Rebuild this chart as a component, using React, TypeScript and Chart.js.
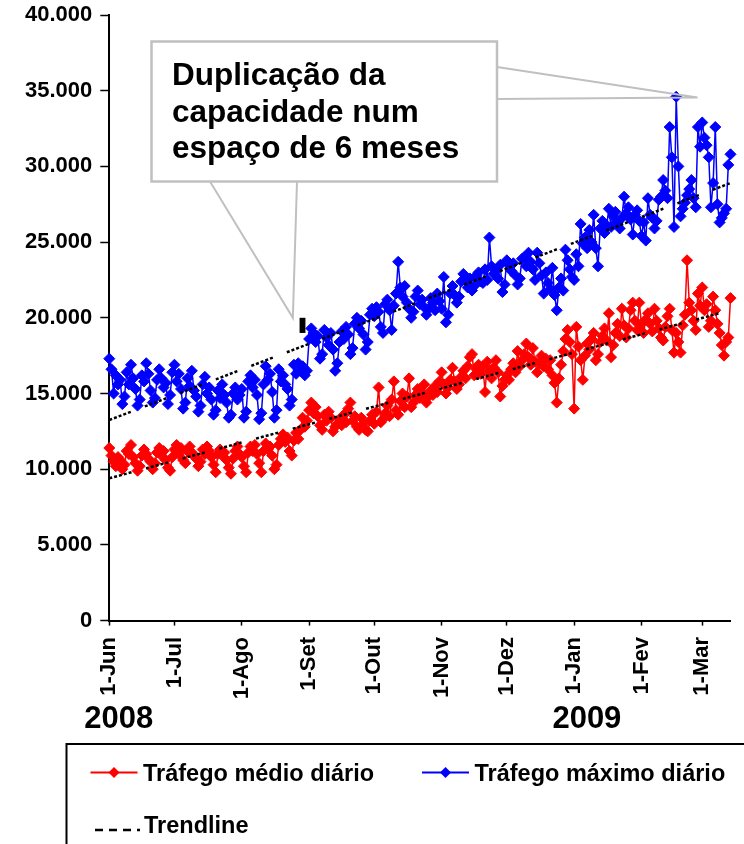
import React, { useEffect, useRef } from "react";
import { Chart, registerables } from "chart.js";

Chart.register(...registerables);

const FONT = 'Arial, "Liberation Sans", sans-serif';

// x axis: day index counted from 1-Jun-2008
const monthTickDays = [0, 30, 61, 92, 122, 153, 183, 214, 245, 273];
const monthTickLabels = ["1-Jun", "1-Jul", "1-Ago", "1-Set", "1-Out", "1-Nov", "1-Dez", "1-Jan", "1-Fev", "1-Mar"];
const yearLabels = ["2008", "2009"];
const yearLabelDays = [-11.5, 204];
const lastDay = 286;

// Tráfego máximo diário (thousands)
const maxJun = [17.3, 16.6, 15.0, 16.2, 15.6, 15.9, 14.3, 14.8, 16.4, 15.6, 16.9, 16.0, 15.3, 14.2, 14.6, 16.2, 15.8, 17.0, 16.3, 15.2, 14.4, 14.7, 15.9, 16.6, 16.0, 15.4, 15.7, 14.3, 14.9, 16.4];
const maxJul = [16.9, 15.8, 16.3, 15.3, 14.0, 14.4, 16.0, 15.5, 16.5, 15.2, 14.8, 13.8, 14.2, 15.6, 16.1, 15.0, 15.4, 14.6, 13.6, 13.9, 15.2, 14.7, 15.6, 14.9, 14.4, 13.4, 13.6, 15.0, 15.4, 14.6, 14.9];
const maxAgo = [15.3, 13.4, 13.8, 15.8, 16.2, 15.4, 15.9, 14.9, 13.3, 13.7, 15.6, 16.8, 15.9, 16.3, 15.1, 13.4, 13.9, 16.6, 15.8, 16.2, 15.6, 15.3, 14.2, 14.6, 16.9, 16.3, 17.0, 16.5, 16.8, 16.2, 16.5];
const maxSet = [18.6, 19.3, 19.0, 18.4, 18.8, 17.3, 17.6, 19.2, 18.7, 18.2, 19.0, 17.9, 16.5, 17.0, 18.4, 19.1, 18.6, 19.4, 18.9, 17.6, 18.0, 19.6, 20.0, 19.3, 19.8, 18.9, 17.9, 18.4, 20.2, 20.6];
const maxOut = [20.1, 20.7, 20.4, 19.4, 19.0, 20.9, 21.2, 20.5, 19.2, 20.8, 21.6, 23.7, 22.0, 21.4, 22.1, 21.0, 20.6, 20.0, 20.4, 21.4, 21.8, 20.9, 21.2, 20.7, 20.2, 20.6, 21.3, 21.0, 20.5, 21.6, 21.1];
const maxNov = [20.6, 22.7, 19.7, 20.2, 21.6, 22.1, 21.5, 21.0, 21.4, 22.4, 22.9, 22.5, 22.0, 22.6, 21.8, 22.1, 22.8, 23.0, 22.4, 22.3, 23.2, 22.5, 25.3, 23.4, 22.9, 23.1, 22.6, 23.5, 21.7, 22.2];
const maxDez = [23.8, 23.5, 23.1, 23.6, 22.8, 22.2, 22.6, 23.9, 24.0, 23.4, 24.3, 23.7, 23.2, 22.5, 24.3, 23.6, 22.8, 21.6, 23.0, 22.3, 21.9, 23.3, 21.5, 20.5, 22.0, 22.6, 21.8, 24.5, 23.8, 23.2, 22.7];
const maxJan = [22.5, 24.2, 23.4, 26.2, 24.9, 25.3, 24.6, 25.8, 25.0, 26.8, 24.6, 23.4, 25.9, 26.4, 25.6, 26.1, 27.2, 26.0, 26.7, 27.0, 26.3, 25.9, 26.6, 28.0, 26.9, 27.3, 26.5, 25.5, 26.8, 27.1, 26.4];
const maxFev = [25.4, 26.3, 25.1, 27.9, 26.8, 26.6, 25.9, 26.4, 27.8, 28.0, 29.1, 28.4, 27.9, 32.6, 30.6, 26.0, 34.6, 30.0, 26.7, 27.2, 27.6, 28.1, 28.5, 29.1, 27.9, 27.3, 32.6, 31.3];
const maxMar = [32.9, 31.9, 31.4, 30.6, 27.3, 28.9, 32.6, 27.5, 26.3, 26.6, 26.9, 27.2, 30.1, 30.8];

// Tráfego médio diário (thousands)
const medJun = [11.4, 10.9, 10.5, 10.2, 10.8, 10.6, 10.0, 10.3, 11.2, 11.0, 11.6, 10.8, 10.4, 9.9, 10.2, 10.9, 11.3, 11.0, 10.7, 10.5, 10.0, 10.4, 11.1, 11.4, 10.9, 11.2, 10.6, 10.1, 9.9, 10.8];
const medJul = [11.3, 11.6, 11.0, 11.4, 10.6, 10.4, 11.2, 11.5, 11.1, 10.9, 10.7, 10.2, 10.5, 11.3, 11.0, 11.5, 11.2, 10.8, 10.3, 9.8, 11.0, 11.3, 10.9, 11.1, 10.6, 10.1, 9.7, 10.7, 11.2, 11.5, 11.0];
const medAgo = [10.8, 10.2, 9.8, 11.1, 11.5, 11.2, 11.6, 11.0, 10.4, 9.8, 11.2, 11.7, 11.3, 11.5, 10.9, 10.0, 10.3, 11.6, 12.0, 12.3, 11.8, 12.1, 11.2, 10.9, 11.9, 12.4, 12.0, 12.6, 13.4, 12.8, 13.2];
const medSet = [13.9, 14.4, 13.7, 14.1, 13.5, 12.9, 12.6, 13.6, 13.2, 13.8, 13.4, 12.5, 12.8, 13.0, 13.3, 12.9, 13.6, 13.1, 14.0, 14.4, 13.2, 13.5, 12.8, 12.6, 13.4, 13.0, 12.6, 12.5, 13.2, 13.6];
const medOut = [13.0, 13.8, 15.4, 13.1, 13.3, 13.7, 14.2, 13.5, 14.6, 15.8, 13.9, 13.6, 14.5, 15.0, 14.1, 14.8, 16.0, 14.1, 14.4, 14.9, 15.3, 14.7, 15.0, 15.6, 14.4, 14.8, 15.2, 14.9, 15.5, 15.1, 15.8];
const medNov = [16.4, 15.6, 15.0, 15.4, 15.9, 16.7, 15.8, 15.3, 15.6, 16.1, 16.5, 16.0, 16.8, 17.4, 17.6, 16.2, 16.6, 16.9, 16.3, 16.8, 15.1, 17.1, 16.5, 16.0, 16.7, 17.2, 16.4, 14.8, 15.5, 15.9];
const medDez = [16.2, 15.9, 16.6, 17.0, 16.4, 17.8, 16.8, 17.2, 17.6, 18.3, 17.4, 16.9, 18.0, 17.1, 16.4, 17.0, 17.5, 16.8, 17.3, 16.6, 17.2, 16.2, 15.7, 14.4, 16.0, 16.9, 17.8, 18.6, 19.2, 18.4, 17.6];
const medJan = [14.0, 19.4, 18.1, 17.2, 15.9, 17.5, 18.3, 17.9, 18.6, 19.0, 17.2, 17.6, 18.4, 18.8, 19.3, 18.5, 20.3, 17.4, 18.2, 19.0, 19.6, 18.8, 20.6, 19.5, 18.7, 19.3, 20.5, 21.0, 19.8, 19.2, 21.0];
const medFev = [19.6, 19.0, 19.9, 20.3, 19.6, 19.1, 20.6, 19.8, 19.3, 18.7, 18.5, 19.4, 20.1, 20.6, 19.2, 17.7, 19.0, 18.4, 17.7, 19.5, 20.2, 23.8, 21.0, 20.5, 19.8, 19.2, 21.6, 20.8];
const medMar = [22.0, 20.5, 20.9, 19.4, 19.8, 21.4, 20.5, 19.6, 19.0, 18.2, 17.5, 18.4, 18.7, 21.3];

// linear trendlines (day, thousands)
const trendDays = [0, 286];
const trendMax = [13.25, 28.9];
const trendMed = [9.4, 20.5];

// callout annotation text and pointer targets (day, thousands)
const calloutLines = ["Duplicação da", "capacidade num", "espaço de 6 meses"];
const peakTip = [270.8, 34.55];
const startTip = [84.5, 20.0];
const startMark = [87.6, 90.3, 20.0, 19.0];

const legendLabels = ["Tráfego médio diário", "Tráfego máximo diário", "Trendline"];

const maxDaily = [...maxJun, ...maxJul, ...maxAgo, ...maxSet, ...maxOut, ...maxNov, ...maxDez, ...maxJan, ...maxFev, ...maxMar];
const medDaily = [...medJun, ...medJul, ...medAgo, ...medSet, ...medOut, ...medNov, ...medDez, ...medJan, ...medFev, ...medMar];

const RED = "#ff0000";
const BLUE = "#0000ff";

function diamond(ctx: CanvasRenderingContext2D, x: number, y: number, r: number, color: string) {
  ctx.beginPath();
  ctx.moveTo(x - r, y);
  ctx.lineTo(x, y - r);
  ctx.lineTo(x + r, y);
  ctx.lineTo(x, y + r);
  ctx.closePath();
  ctx.fillStyle = color;
  ctx.fill();
}

const decorPlugin = {
  id: "decor",
  afterDraw(chart: any) {
    const ctx: CanvasRenderingContext2D = chart.ctx;
    const xs = chart.scales.x;
    const ys = chart.scales.y;
    ctx.save();

    // x tick labels (rotated)
    ctx.fillStyle = "#000";
    ctx.font = `bold 22px ${FONT}`;
    monthTickDays.forEach((d, i) => {
      const px = xs.getPixelForValue(d);
      ctx.save();
      ctx.translate(px, 637);
      ctx.rotate(-Math.PI / 2);
      ctx.textAlign = "right";
      ctx.textBaseline = "middle";
      ctx.fillText(monthTickLabels[i], 0, 0);
      ctx.restore();
    });

    // year labels
    ctx.font = `bold 31px ${FONT}`;
    ctx.textAlign = "left";
    ctx.textBaseline = "alphabetic";
    yearLabels.forEach((t, i) => {
      ctx.fillText(t, xs.getPixelForValue(yearLabelDays[i]), 728);
    });

    // callout pointers
    const boxL = 151.5, boxT = 41.5, boxR = 497, boxB = 181.5;
    const tx = xs.getPixelForValue(peakTip[0]);
    const ty = ys.getPixelForValue(peakTip[1]);
    const sx = xs.getPixelForValue(startTip[0]);
    const sy = ys.getPixelForValue(startTip[1]);
    ctx.strokeStyle = "#c0c0c0";
    ctx.lineWidth = 2;
    ctx.beginPath();
    ctx.moveTo(boxR, 67);
    ctx.lineTo(tx, ty);
    ctx.lineTo(boxR, 99);
    ctx.stroke();
    ctx.beginPath();
    ctx.moveTo(210, boxB);
    ctx.lineTo(sx, sy);
    ctx.lineTo(297, boxB);
    ctx.stroke();

    // callout box
    ctx.fillStyle = "#ffffff";
    ctx.fillRect(boxL, boxT, boxR - boxL, boxB - boxT);
    ctx.lineWidth = 2.5;
    ctx.strokeStyle = "#c0c0c0";
    ctx.strokeRect(boxL, boxT, boxR - boxL, boxB - boxT);
    ctx.fillStyle = "#000";
    ctx.font = `bold 31.5px ${FONT}`;
    ctx.textAlign = "left";
    calloutLines.forEach((t, i) => {
      ctx.fillText(t, 172, 85 + i * 36.5);
    });

    // small black mark
    const mx0 = xs.getPixelForValue(startMark[0]);
    const mx1 = xs.getPixelForValue(startMark[1]);
    const my0 = ys.getPixelForValue(startMark[2]);
    const my1 = ys.getPixelForValue(startMark[3]);
    ctx.fillStyle = "#000";
    ctx.fillRect(mx0, my0, mx1 - mx0, my1 - my0);

    // legend box
    ctx.strokeStyle = "#000";
    ctx.lineWidth = 2;
    ctx.strokeRect(66.5, 744, 760, 200);

    ctx.font = `bold 23.5px ${FONT}`;
    ctx.textBaseline = "alphabetic";
    // red item
    ctx.strokeStyle = RED;
    ctx.lineWidth = 2;
    ctx.beginPath();
    ctx.moveTo(90.5, 772.5);
    ctx.lineTo(137.5, 772.5);
    ctx.stroke();
    diamond(ctx, 114, 772.5, 5.5, RED);
    ctx.fillStyle = "#000";
    ctx.fillText(legendLabels[0], 143, 781);
    // blue item
    ctx.strokeStyle = BLUE;
    ctx.beginPath();
    ctx.moveTo(422, 772.5);
    ctx.lineTo(469, 772.5);
    ctx.stroke();
    diamond(ctx, 445.5, 772.5, 5.5, BLUE);
    ctx.fillStyle = "#000";
    ctx.fillText(legendLabels[1], 474.5, 781);
    // trendline item
    ctx.strokeStyle = "#000";
    ctx.lineWidth = 2.5;
    ctx.setLineDash([8, 6]);
    ctx.beginPath();
    ctx.moveTo(95, 830);
    ctx.lineTo(140, 830);
    ctx.stroke();
    ctx.setLineDash([]);
    ctx.fillText(legendLabels[2], 144, 833);

    ctx.restore();
  },
};

export default function App() {
  const ref = useRef<HTMLCanvasElement>(null);
  useEffect(() => {
    document.body.style.margin = "0";
    const canvas = ref.current;
    if (!canvas) return;
    const toPts = (arr: number[]) => arr.map((v, i) => ({ x: i, y: v }));
    const trendPts = (arr: number[]) => arr.map((v, i) => ({ x: trendDays[i], y: v }));
    const chart = new Chart(canvas, {
      type: "line",
      data: {
        datasets: [
          {
            label: "TrendMax",
            data: trendPts(trendMax),
            borderColor: "#000",
            borderWidth: 2.5,
            borderDash: [3, 2, 3, 2, 3, 2, 3, 2, 3, 15],
            pointRadius: 0,
            fill: false,
            order: 0,
          },
          {
            label: "TrendMed",
            data: trendPts(trendMed),
            borderColor: "#000",
            borderWidth: 2.5,
            borderDash: [3, 2, 3, 2, 3, 2, 3, 2, 3, 15],
            pointRadius: 0,
            fill: false,
            order: 0,
          },
          {
            label: legendLabels[0],
            data: toPts(medDaily),
            borderColor: RED,
            backgroundColor: RED,
            borderWidth: 1.5,
            pointStyle: "rectRot",
            pointRadius: 5.5,
            pointBorderWidth: 1,
            pointBackgroundColor: RED,
            pointBorderColor: RED,
            fill: false,
            clip: false,
            order: 1,
          },
          {
            label: legendLabels[1],
            data: toPts(maxDaily),
            borderColor: BLUE,
            backgroundColor: BLUE,
            borderWidth: 1.5,
            pointStyle: "rectRot",
            pointRadius: 5.5,
            pointBorderWidth: 1,
            pointBackgroundColor: BLUE,
            pointBorderColor: BLUE,
            fill: false,
            clip: false,
            order: 2,
          },
        ],
      } as any,
      options: {
        responsive: false,
        maintainAspectRatio: false,
        animation: false,
        devicePixelRatio: 1,
        layout: { padding: { top: 15, right: 13.5, bottom: 0, left: 0 } },
        plugins: { legend: { display: false }, tooltip: { enabled: false } },
        scales: {
          x: {
            type: "linear",
            min: 0,
            max: lastDay,
            afterBuildTicks: (s: any) => {
              s.ticks = monthTickDays.map((v) => ({ value: v }));
            },
            afterFit: (s: any) => {
              s.height = 223.4;
              s.paddingLeft = 0;
              s.paddingRight = 0;
            },
            ticks: { display: false },
            grid: { drawOnChartArea: false, drawTicks: true, tickLength: 5, tickWidth: 1.5, tickColor: "#000" },
            border: { display: true, color: "#000", width: 2 },
          },
          y: {
            type: "linear",
            min: 0,
            max: 40,
            afterFit: (s: any) => {
              s.width = 109.3;
              s.paddingTop = 0;
              s.paddingBottom = 0;
            },
            ticks: {
              stepSize: 5,
              color: "#000",
              padding: 8,
              font: { family: FONT, size: 22, weight: "bold" },
              callback: (v: any) => (Number(v) === 0 ? "0" : `${v}.000`),
            },
            grid: { drawOnChartArea: false, drawTicks: true, tickLength: 9, tickWidth: 1.5, tickColor: "#000" },
            border: { display: true, color: "#000", width: 2 },
          },
        },
      } as any,
      plugins: [decorPlugin],
    });
    return () => chart.destroy();
  }, []);
  return (
    <div style={{ width: 744, height: 844, position: "relative", background: "#fff" }}>
      <canvas ref={ref} width={744} height={844} style={{ display: "block", width: 744, height: 844 }} />
    </div>
  );
}
